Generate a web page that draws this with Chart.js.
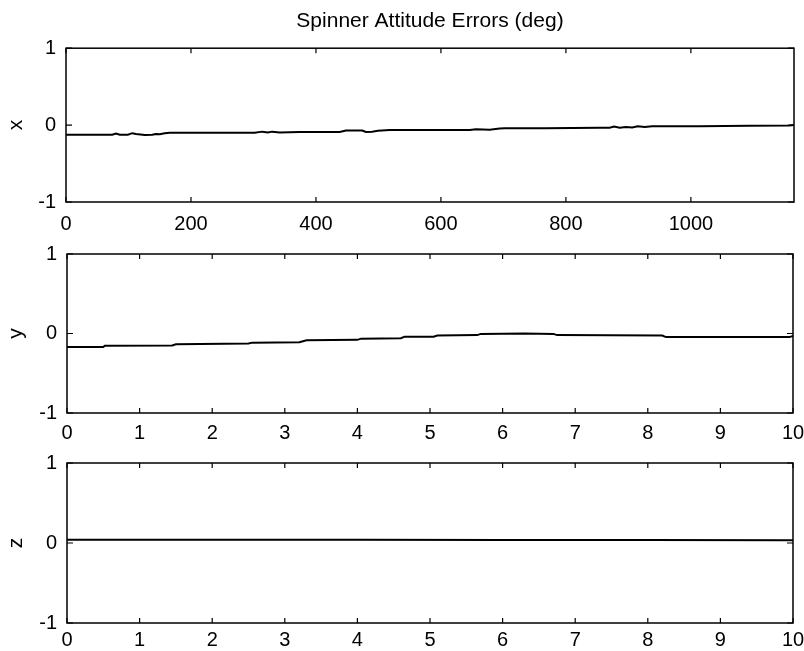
<!DOCTYPE html>
<html>
<head>
<meta charset="utf-8">
<script src="https://cdn.jsdelivr.net/npm/chart.js@4/dist/chart.umd.min.js"></script>
<style>
  body { margin: 0; background: #fff; }
  #wrap { position: relative; width: 804px; height: 651px; }
  canvas { position: absolute; left: 0; }
</style>
</head>
<body>
<div id="wrap">
  <canvas id="plotX" width="804" height="232" style="top:0"></canvas>
  <canvas id="plotY" width="804" height="210" style="top:232px"></canvas>
  <canvas id="plotZ" width="804" height="209" style="top:442px"></canvas>
</div>
<script>
// x axis error, time base 0..1165
const timeX = [0, 38, 74, 80, 86, 99, 106, 112, 126, 138, 144, 150, 158, 166, 214, 302, 314, 323, 330, 342, 374, 438, 448, 474, 480, 490, 499, 518, 566, 646, 656, 678, 694, 702, 766, 854, 870, 877, 886, 896, 906, 915, 926, 938, 950, 1014, 1094, 1158, 1165];
const errX = [-0.125, -0.125, -0.125, -0.11, -0.125, -0.125, -0.105, -0.115, -0.13, -0.125, -0.115, -0.12, -0.105, -0.10, -0.10, -0.10, -0.085, -0.095, -0.085, -0.095, -0.09, -0.09, -0.07, -0.07, -0.09, -0.085, -0.075, -0.065, -0.065, -0.065, -0.055, -0.06, -0.045, -0.04, -0.04, -0.035, -0.035, -0.02, -0.035, -0.025, -0.03, -0.015, -0.025, -0.015, -0.015, -0.015, -0.01, -0.005, 0.0];

// y axis error, time base 0..10
const timeY = [0, 0.5, 0.52, 1.45, 1.5, 2.5, 2.55, 3.2, 3.3, 4.0, 4.05, 4.6, 4.65, 5.05, 5.1, 5.65, 5.7, 6.3, 6.7, 6.75, 8.2, 8.25, 9.95, 10];
const errY = [-0.17, -0.17, -0.155, -0.15, -0.135, -0.125, -0.115, -0.11, -0.085, -0.08, -0.065, -0.06, -0.04, -0.04, -0.025, -0.02, -0.005, 0.0, -0.005, -0.02, -0.025, -0.045, -0.045, -0.03];

// z axis error, time base 0..10
const timeZ = [0, 2, 4, 6, 8, 10];
const errZ = [0.04, 0.04, 0.04, 0.038, 0.036, 0.035];

const ticksX1 = [0, 200, 400, 600, 800, 1000];
const ticks0to10 = [0, 1, 2, 3, 4, 5, 6, 7, 8, 9, 10];
const ticksErr = [-1, 0, 1];

const FONT = "'Liberation Sans', Arial, Helvetica, sans-serif";

// matlab style box with inward ticks on all four sides
const matlabBox = {
  id: 'matlabBox',
  afterDatasetsDraw(chart) {
    const { ctx, chartArea: a, scales } = chart;
    ctx.save();
    ctx.strokeStyle = '#000';
    ctx.lineWidth = 1.5;
    ctx.strokeRect(a.left, a.top, a.right - a.left, a.bottom - a.top);
    ctx.lineWidth = 1.2;
    ctx.beginPath();
    scales.x.ticks.forEach(t => {
      const px = scales.x.getPixelForValue(t.value);
      ctx.moveTo(px, a.bottom); ctx.lineTo(px, a.bottom - 5);
      ctx.moveTo(px, a.top); ctx.lineTo(px, a.top + 5);
    });
    scales.y.ticks.forEach(t => {
      const py = scales.y.getPixelForValue(t.value);
      ctx.moveTo(a.left, py); ctx.lineTo(a.left + 6, py);
      ctx.moveTo(a.right, py); ctx.lineTo(a.right - 6, py);
    });
    ctx.stroke();
    ctx.restore();
  }
};

function makePlot(id, t, v, opts) {
  const ctx = document.getElementById(id).getContext('2d');
  return new Chart(ctx, {
    type: 'line',
    data: {
      datasets: [{
        data: t.map((x, i) => ({ x: x, y: v[i] })),
        borderColor: '#000',
        borderWidth: 2,
        pointRadius: 0,
        tension: 0,
        fill: false
      }]
    },
    options: {
      responsive: false,
      animation: false,
      events: [],
      layout: { padding: { top: opts.padTop, right: opts.padRight, left: 0, bottom: 0 } },
      plugins: {
        legend: { display: false },
        tooltip: { enabled: false },
        title: opts.title ? {
          display: true,
          text: opts.title,
          fullSize: false,
          color: '#000',
          font: { family: FONT, size: 21, weight: 'normal' },
          padding: { top: 9, bottom: 14 }
        } : { display: false }
      },
      scales: {
        x: {
          type: 'linear',
          min: 0,
          max: opts.xMax,
          grid: { display: false, drawTicks: false },
          border: { display: false },
          afterBuildTicks: s => { s.ticks = opts.xTicks.map(val => ({ value: val })); },
          afterFit: s => { s.height = opts.xHeight; s.paddingLeft = 0; s.paddingRight = 0; },
          ticks: {
            color: '#000',
            padding: opts.xPad,
            maxRotation: 0,
            autoSkip: false,
            font: { family: FONT, size: 20 },
            callback: val => String(val)
          }
        },
        y: {
          min: -1,
          max: 1,
          grid: { display: false, drawTicks: false },
          border: { display: false },
          afterBuildTicks: s => { s.ticks = ticksErr.map(val => ({ value: val })); },
          afterFit: s => { s.width = opts.yWidth; s.paddingTop = 0; s.paddingBottom = 0; },
          ticks: {
            color: '#000',
            padding: 10,
            font: { family: FONT, size: 20 },
            callback: val => String(val)
          },
          title: {
            display: true,
            text: opts.label,
            color: '#000',
            font: { family: FONT, size: 21 },
            padding: { top: 4, bottom: 0 }
          }
        }
      }
    },
    plugins: [matlabBox]
  });
}

makePlot('plotX', timeX, errX, {
  title: 'Spinner Attitude Errors (deg)', label: 'x', xMax: 1165, xTicks: ticksX1,
  padTop: 0, padRight: 10, yWidth: 66, xHeight: 30, xPad: 10
});
makePlot('plotY', timeY, errY, {
  label: 'y', xMax: 10, xTicks: ticks0to10,
  padTop: 22, padRight: 11, yWidth: 67, xHeight: 29, xPad: 8
});
makePlot('plotZ', timeZ, errZ, {
  label: 'z', xMax: 10, xTicks: ticks0to10,
  padTop: 21, padRight: 11, yWidth: 67, xHeight: 28, xPad: 5
});
</script>
</body>
</html>
